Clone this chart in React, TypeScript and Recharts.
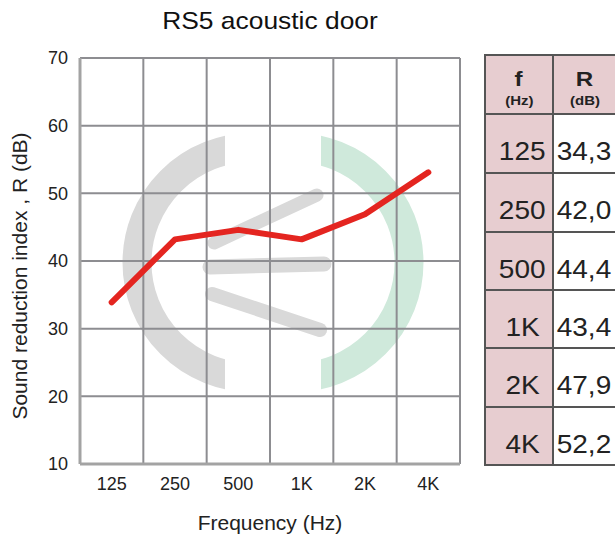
import React from 'react';
import { LineChart, Line, XAxis, YAxis, CartesianGrid } from 'recharts';

const frequencies = ['125', '250', '500', '1K', '2K', '4K'];
const soundReduction = [33.9, 43.2, 44.6, 43.2, 46.9, 53.1];
const tableR = ['34,3', '42,0', '44,4', '43,4', '47,9', '52,2'];
const yTicks = [10, 20, 30, 40, 50, 60, 70];

const data = frequencies.map((f, i) => ({ f, r: soundReduction[i] }));

const FONT = '"Liberation Sans", Arial, Helvetica, sans-serif';
const PINK = '#e7cdd0';
const BORDER = '#555555';

const Watermark = () => (
  <svg width={615} height={534} style={{ position: 'absolute', left: 0, top: 0 }}>
    <defs>
      <clipPath id="clipL">
        <rect x={0} y={0} width={225} height={534} />
      </clipPath>
      <clipPath id="clipR">
        <rect x={321} y={0} width={300} height={534} />
      </clipPath>
    </defs>
    <circle cx={252} cy={262.5} r={115} fill="none" stroke="#d9d9d9" strokeWidth={29} clipPath="url(#clipL)" />
    <circle cx={294} cy={262.5} r={115} fill="none" stroke="#cfe9db" strokeWidth={29} clipPath="url(#clipR)" />
    <line x1={214} y1={243} x2={317} y2={195} stroke="#d9d9d9" strokeWidth={13} strokeLinecap="round" />
    <line x1={210} y1={267} x2={324} y2={264} stroke="#d9d9d9" strokeWidth={15} strokeLinecap="round" />
    <line x1={212} y1={294} x2={320} y2={330} stroke="#d9d9d9" strokeWidth={14} strokeLinecap="round" />
  </svg>
);

const rowLines = [55, 114, 173, 232, 290, 348, 407, 465];
const colLines = [485, 553, 621];

const Table = () => {
  const cells: React.ReactNode[] = [];
  for (let r = 0; r < rowLines.length - 1; r++) {
    for (let c = 0; c < 2; c++) {
      const top = rowLines[r] - 1;
      const height = rowLines[r + 1] - rowLines[r] + 2;
      const left = colLines[c] - 1;
      const width = colLines[c + 1] - colLines[c] + 2;
      const bg = r === 0 || c === 0 ? PINK : '#ffffff';
      let content: React.ReactNode;
      if (r === 0) {
        content = (
          <div style={{ display: 'flex', flexDirection: 'column', alignItems: 'center', paddingTop: 12, paddingRight: c === 1 ? 4 : 0 }}>
            <div style={{ fontSize: 21, fontWeight: 'bold', lineHeight: '22px', transform: 'scaleX(1.15)' }}>
              {c === 0 ? 'f' : 'R'}
            </div>
            <div style={{ fontSize: 13, fontWeight: 'bold', lineHeight: '14px', marginTop: 4, transform: 'scaleX(1.15)' }}>
              {c === 0 ? '(Hz)' : '(dB)'}
            </div>
          </div>
        );
      } else {
        content = (
          <div style={{ fontSize: 25, lineHeight: '30px', transform: 'scaleX(1.12)', paddingTop: 15, paddingLeft: c === 0 ? 6 : 0, paddingRight: c === 1 ? 6 : 0 }}>
            {c === 0 ? frequencies[r - 1] : tableR[r - 1]}
          </div>
        );
      }
      cells.push(
        <div
          key={`${r}-${c}`}
          style={{
            position: 'absolute',
            left,
            top,
            width,
            height,
            boxSizing: 'border-box',
            border: `2px solid ${BORDER}`,
            background: bg,
            display: 'flex',
            alignItems: r === 0 ? 'flex-start' : 'center',
            justifyContent: 'center',
            color: '#222',
          }}
        >
          {content}
        </div>
      );
    }
  }
  return <>{cells}</>;
};

export default function App() {
  return (
    <div
      style={{
        position: 'absolute',
        left: 0,
        top: 0,
        width: 615,
        height: 534,
        overflow: 'hidden',
        background: '#ffffff',
        fontFamily: FONT,
      }}
    >
      <Watermark />
      <div style={{ position: 'absolute', left: 0, top: 0 }}>
        <LineChart width={470} height={534} data={data} margin={{ top: 58, right: 10, bottom: 0, left: 0 }}>
          <CartesianGrid
            stroke="#8d8d91"
            strokeWidth={2}
            verticalCoordinatesGenerator={({ offset }: any) => {
              const n = frequencies.length;
              return Array.from({ length: n + 1 }, (_, i) => offset.left + (i * offset.width) / n);
            }}
          />
          <XAxis
            dataKey="f"
            scale="band"
            interval={0}
            tickLine={false}
            tickSize={0}
            tickMargin={13}
            height={70}
            axisLine={{ stroke: '#a3a3a3', strokeWidth: 3 }}
            tick={{ fontSize: 18, fill: '#222' }}
            label={{ value: 'Frequency (Hz)', position: 'insideBottom', offset: 4, fontSize: 21, fill: '#222' }}
          />
          <YAxis
            type="number"
            domain={[10, 70]}
            ticks={yTicks}
            interval={0}
            width={80}
            tickLine={false}
            tickSize={0}
            tickMargin={12}
            axisLine={{ stroke: '#a3a3a3', strokeWidth: 3 }}
            tick={{ fontSize: 18, fill: '#222' }}
          />
          <Line
            type="linear"
            dataKey="r"
            stroke="#e42520"
            strokeWidth={6}
            dot={false}
            activeDot={false}
            strokeLinecap="round"
            strokeLinejoin="round"
            isAnimationActive={false}
          />
        </LineChart>
      </div>
      <svg width={615} height={534} style={{ position: 'absolute', left: 0, top: 0, pointerEvents: 'none' }}>
        <text transform="translate(270,29) scale(1.1,1)" textAnchor="middle" fontSize={24} fill="#111">
          RS5 acoustic door
        </text>
        <text transform="translate(27,276) rotate(-90)" textAnchor="middle" fontSize={21} fill="#222">
          Sound reduction index , R (dB)
        </text>
      </svg>
      <Table />
    </div>
  );
}
